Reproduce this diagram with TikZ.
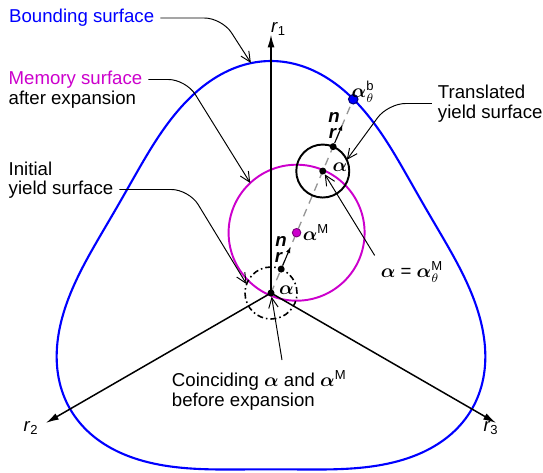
\documentclass[tikz,border=0pt]{standalone}
\usepackage{amsmath}
\usepackage{fontspec}
\setmainfont{Liberation Sans}
\usepackage{tikz}
\usetikzlibrary{arrows.meta}
\definecolor{bsblue}{RGB}{0,0,255}
\definecolor{msmag}{RGB}{204,0,204}
\definecolor{dashgray}{RGB}{150,150,150}

\begin{document}
\begin{tikzpicture}[
    every node/.style={font=\fontsize{10.6}{11.4}\selectfont},
    axis/.style={-{Latex[length=2.6mm,width=1.4mm]}, line width=0.85pt},
    callout/.style={-{Straight Barb[length=2mm,width=1.9mm]}, line width=0.55pt, rounded corners=0.35cm},
    nvec/.style={-{Latex[length=1.2mm,width=0.9mm]}, line width=0.6pt},
    surf/.style={circle, draw, inner sep=0pt, outer sep=0pt},
    dot/.style={circle, fill=black, inner sep=0pt, minimum size=1.4mm},
    ptlbl/.style={inner sep=0.3pt},
    bsurf/.style={draw=bsblue, line width=1.2pt},
    gdash/.style={draw=dashgray, line width=0.75pt, dash pattern=on 4.5pt off 3.4pt}
]

% Points on the radial line
\coordinate (O) at (0,0);
\coordinate (aM) at (67:1.31);
\coordinate (aT) at (67:2.65);
\coordinate (aB) at (67:4.21);
\coordinate (n0) at (67:1.0);
\coordinate (nT) at (67:3.66);
\coordinate (r1) at (90:5.17);
\coordinate (r2) at (210:5.2);
\coordinate (r3) at (-30:5.2);
\coordinate (bsTip) at (95:4.62);

\useasboundingbox (-5.42,-3.58) rectangle (5.44,5.86);

% Radial line
\draw[gdash] (O) -- (aB);

% Surfaces
\draw[bsurf] plot[domain=0:358, samples=180, smooth cycle] (\x:{7.0528/(1.76+0.24*sin(3*\x))});
\node[surf, draw=msmag, line width=1.1pt, minimum size=2.72cm] (mem) at (aM) {};
\node[surf, line width=1.1pt, minimum size=1.06cm] (trans) at (aT) {};
\node[surf, line width=0.9pt, dash pattern=on 3.4pt off 1.7pt on 0.9pt off 1.7pt, minimum size=1.04cm] (init) at (O) {};

% Axes
\draw[axis] (O) -- (r1);
\draw[axis] (O) -- (r2);
\draw[axis] (O) -- (r3);
\node (r1lbl) at (0.15,5.28) {\textit{r}\textsubscript{1}};
\node (r2lbl) at (-4.8,-2.7) {\textit{r}\textsubscript{2}};
\node (r3lbl) at (4.4,-2.7) {\textit{r}\textsubscript{3}};

% Dots
\node[dot] (odot) at (O) {};
\node[dot] (r0dot) at (67:0.52) {};
\node[dot] (aTdot) at (aT) {};
\node[dot] (rTdot) at (67:3.18) {};
\node[dot, fill=msmag, draw=msmag!60!black, line width=0.5pt, minimum size=1.7mm] (aMdot) at (aM) {};
\node[dot, fill=bsblue, draw=bsblue!50!black, line width=0.6pt, minimum size=1.9mm] (aBdot) at (aB) {};

% Normal vectors
\draw[nvec] (r0dot) -- (n0);
\draw[nvec] (rTdot) -- (nT);

% Point labels
\node[ptlbl] (a0lbl) at (0.31,0.06) {$\boldsymbol{\alpha}$};
\node[ptlbl] (n0lbl) at (0.2,1.04) {\textbf{\textit{n}}};
\node[ptlbl] (r0lbl) at (0.16,0.71) {\textbf{\textit{r}}};
\node[ptlbl] (aMlbl) at (0.9,1.2) {$\boldsymbol{\alpha}^{\textnormal{M}}$};
\node[ptlbl] (aTlbl) at (1.38,2.52) {$\boldsymbol{\alpha}$};
\node[ptlbl] (nTlbl) at (1.26,3.52) {\textbf{\textit{n}}};
\node[ptlbl] (rTlbl) at (1.24,3.19) {\textbf{\textit{r}}};
\node[ptlbl] (aBlbl) at (1.84,4.02) {$\boldsymbol{\alpha}^{\textnormal{b}}_{\theta}$};

% Callouts
\node[anchor=west, text=bsblue] (bslbl) at (-5.36,5.5) {Bounding surface};
\draw[callout] (bslbl.east) -- (-0.98,5.5) -- (bsTip);

\node[anchor=west, text=msmag] (mslbl) at (-5.37,4.27) {Memory surface};
\node[anchor=west] (aelbl) at (-5.37,3.87) {after expansion};
\draw[callout] (mslbl.east) -- (-1.7,4.27) -- (mem.133);

\node[anchor=west] (inilbl) at (-5.37,2.49) {Initial};
\node[anchor=west] (iylbl) at (-5.37,2.07) {yield surface};
\draw[callout] (iylbl.east) -- (-1.64,2.07) -- (init.160);

\node[anchor=west, align=left] (tylbl) at (3.215,3.79) {Translated\\yield surface};
\draw[callout] (tylbl.west) -- (2.34,3.79) -- (trans.25);

\node (eqlbl) at (2.82,0.42) {$\boldsymbol{\alpha}$ = $\boldsymbol{\alpha}^{\textnormal{M}}_{\theta}$};
\draw[callout] (eqlbl.north west) -- (aTdot);

\node[anchor=west, align=left] (coinlbl) at (-2.105,-1.95) {Coinciding $\boldsymbol{\alpha}$ and $\boldsymbol{\alpha}^{\textnormal{M}}$\\before expansion};
\coordinate (coinTop) at (0.22,-1.34);
\draw[callout] (coinTop) -- (odot);

\end{tikzpicture}
\end{document}
